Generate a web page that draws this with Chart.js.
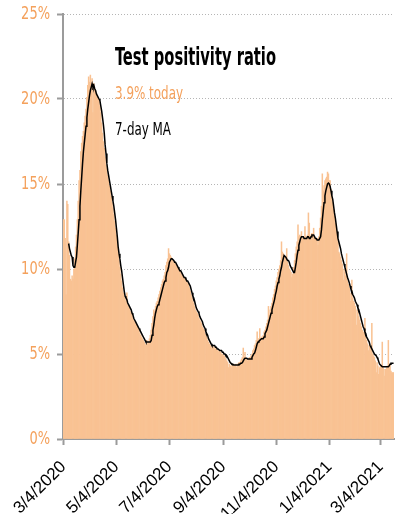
<!DOCTYPE html>
<html lang="en">
<head>
    <meta charset="UTF-8" />
    <title>Test positivity ratio</title>
    <script src="https://cdn.jsdelivr.net/npm/chart.js"></script>
    <style>
        body { margin: 0; background: #fff; }
        #chart { display: block; }
    </style>
</head>
<body>
    <canvas id="chart" width="401" height="514"></canvas>

    <script>
        // Daily positivity ratio (%), one value per day from 3/4/2020 to 3/19/2021
        const dailyRatio = [
            12.9, 12.9, 11.8, 8.5, 14.0, 13.8, 11.6, 10.8, 9.4, 9.3,
            9.6, 9.4, 10.0, 10.6, 11.3, 12.0, 12.9, 14.0, 15.2, 15.8,
            16.9, 17.4, 17.8, 18.1, 18.6, 19.0, 19.4, 20.1, 20.8, 21.3,
            21.0, 21.4, 20.9, 21.2, 19.2, 20.9, 20.6, 20.5, 20.3, 20.2,
            20.1, 19.9, 19.6, 19.2, 18.6, 18.0, 17.5, 17.1, 16.6, 16.1,
            15.9, 15.5, 15.2, 14.9, 14.6, 14.3, 13.9, 13.6, 13.2, 12.8,
            12.4, 12.0, 11.6, 11.0, 10.5, 10.1, 9.7, 9.3, 8.9, 8.6,
            8.3, 8.4, 8.1, 8.6, 7.9, 7.8, 7.7, 7.5, 7.4, 7.3,
            7.1, 7.0, 6.9, 6.8, 6.7, 6.6, 6.5, 6.4, 6.2, 6.1,
            6.0, 5.9, 5.8, 5.7, 5.6, 5.5, 5.8, 5.6, 5.7, 5.9,
            6.1, 6.4, 6.8, 7.2, 7.6, 7.5, 7.8, 8.0, 8.1, 8.3,
            8.5, 8.7, 8.9, 9.1, 9.3, 9.4, 9.6, 9.8, 10.2, 10.4,
            10.6, 11.2, 10.9, 10.8, 10.7, 10.6, 10.5, 10.4, 10.4, 10.3,
            10.2, 10.1, 10.0, 9.9, 9.9, 9.8, 9.7, 9.6, 9.6, 9.5,
            9.4, 9.4, 9.3, 9.2, 9.1, 8.9, 8.7, 8.5, 8.3, 8.1,
            8.0, 7.8, 7.6, 7.5, 7.4, 7.3, 7.1, 7.0, 6.9, 6.8,
            6.6, 6.5, 6.4, 6.2, 6.1, 6.0, 5.8, 5.7, 5.6, 5.5,
            5.5, 5.4, 5.5, 5.4, 5.3, 5.4, 5.3, 5.2, 5.2, 5.1,
            5.2, 5.1, 5.0, 5.0, 4.9, 4.9, 4.8, 4.7, 4.6, 4.5,
            4.2, 4.4, 4.3, 4.2, 4.4, 4.3, 4.4, 4.3, 4.4, 4.2,
            4.4, 4.4, 4.5, 4.5, 4.6, 4.7, 4.8, 5.35, 4.8, 5.1,
            4.7, 4.7, 4.6, 4.7, 4.8, 4.8, 4.9, 5.0, 5.2, 5.3,
            5.5, 5.6, 5.8, 6.3, 5.8, 5.9, 6.5, 5.9, 6.0, 6.0,
            6.1, 6.3, 6.4, 6.6, 6.8, 7.0, 7.8, 7.3, 7.6, 7.8,
            8.0, 8.3, 8.5, 8.8, 9.0, 9.3, 9.5, 9.8, 10.0, 10.2,
            10.5, 11.6, 11.0, 10.9, 10.8, 10.7, 10.6, 11.2, 10.4, 10.2,
            10.0, 9.9, 9.8, 9.5, 9.7, 10.1, 10.5, 10.9, 11.3, 11.6,
            12.6, 11.9, 12.0, 11.9, 12.2, 11.8, 11.9, 11.8, 12.5, 11.9,
            11.8, 12.0, 13.3, 12.7, 11.9, 12.0, 12.1, 12.0, 12.4, 11.9,
            11.8, 11.7, 11.8, 11.4, 11.9, 12.4, 13.0, 13.7, 15.6, 14.6,
            14.9, 15.2, 15.3, 15.4, 15.7, 15.6, 15.2, 15.2, 14.7, 14.3,
            13.9, 13.5, 13.1, 12.7, 12.5, 12.1, 11.6, 11.0, 10.9, 10.7,
            10.5, 10.3, 9.35, 10.0, 9.8, 9.6, 10.9, 9.3, 9.1, 8.9,
            8.1, 8.6, 9.35, 8.3, 8.1, 8.0, 7.8, 6.7, 7.6, 7.4,
            7.2, 7.0, 6.8, 6.6, 6.4, 6.3, 6.2, 7.1, 6.0, 5.8,
            5.6, 5.2, 5.5, 5.4, 5.3, 6.8, 5.0, 4.9, 4.8, 4.6,
            3.9, 4.5, 4.3, 3.8, 4.2, 4.3, 4.2, 5.7, 4.2, 4.1,
            3.7, 4.1, 4.2, 4.3, 5.8, 4.4, 4.35, 4.0, 3.9, 3.9,
            3.9
        ];

        // 7-day moving average (%), same days; the first six days have none
        const movingAvg = [
            null, null, null, null, null, null, 11.5, 11.2, 11.0, 10.8,
            10.7, 10.2, 10.1, 10.1, 10.4, 10.7, 11.4, 12.1, 12.9, 13.7,
            14.6, 15.4, 16.2, 16.9, 17.4, 17.9, 18.4, 18.9, 19.4, 19.8,
            20.2, 20.5, 20.7, 20.9, 20.7, 20.8, 20.6, 20.5, 20.3, 20.2,
            20.1, 20.0, 19.9, 19.6, 19.3, 18.9, 18.5, 18.0, 17.3, 16.8,
            16.2, 15.8, 15.5, 15.2, 14.9, 14.6, 14.3, 14.0, 13.7, 13.3,
            12.9, 12.4, 11.9, 11.3, 10.9, 10.6, 10.2, 9.9, 9.5, 9.1,
            8.7, 8.4, 8.3, 8.2, 8.0, 7.9, 7.8, 7.7, 7.6, 7.4,
            7.3, 7.1, 7.0, 6.9, 6.8, 6.7, 6.6, 6.5, 6.4, 6.3,
            6.2, 6.1, 6.0, 5.9, 5.8, 5.7, 5.7, 5.7, 5.7, 5.7,
            5.7, 5.8, 6.1, 6.4, 6.7, 7.1, 7.4, 7.6, 7.8, 7.9,
            8.0, 8.2, 8.4, 8.6, 8.8, 9.0, 9.2, 9.3, 9.5, 9.8,
            9.9, 10.1, 10.4, 10.5, 10.6, 10.6, 10.6, 10.5, 10.4, 10.4,
            10.3, 10.2, 10.1, 10.0, 9.9, 9.9, 9.8, 9.7, 9.6, 9.5,
            9.5, 9.4, 9.3, 9.3, 9.2, 9.1, 9.0, 8.8, 8.6, 8.4,
            8.3, 8.1, 7.9, 7.7, 7.6, 7.5, 7.4, 7.2, 7.1, 7.0,
            6.9, 6.7, 6.6, 6.5, 6.3, 6.2, 6.1, 5.9, 5.8, 5.7,
            5.6, 5.5, 5.5, 5.5, 5.5, 5.4, 5.4, 5.3, 5.3, 5.3,
            5.2, 5.2, 5.2, 5.1, 5.1, 5.0, 5.0, 4.9, 4.9, 4.8,
            4.7, 4.6, 4.5, 4.45, 4.4, 4.4, 4.35, 4.35, 4.35, 4.35,
            4.35, 4.35, 4.4, 4.4, 4.45, 4.45, 4.5, 4.6, 4.7, 4.75,
            4.75, 4.75, 4.7, 4.7, 4.7, 4.7, 4.7, 4.8, 4.9, 5.0,
            5.05, 5.2, 5.4, 5.6, 5.7, 5.75, 5.8, 5.85, 5.9, 5.9,
            5.9, 6.0, 6.2, 6.3, 6.4, 6.6, 6.8, 7.0, 7.2, 7.4,
            7.6, 7.8, 8.0, 8.2, 8.5, 8.7, 9.0, 9.2, 9.4, 9.6,
            9.9, 10.1, 10.4, 10.6, 10.8, 10.8, 10.7, 10.6, 10.5, 10.5,
            10.4, 10.2, 10.1, 10.0, 9.9, 9.8, 9.8, 10.1, 10.4, 10.8,
            11.1, 11.4, 11.6, 11.8, 11.9, 11.9, 11.9, 11.8, 11.8, 11.8,
            11.8, 11.9, 11.9, 11.8, 11.8, 11.9, 12.0, 12.0, 12.0, 11.9,
            11.8, 11.8, 11.7, 11.7, 11.7, 11.8, 11.9, 12.3, 12.9, 13.4,
            13.9, 14.3, 14.6, 14.8, 15.0, 15.05, 15.0, 14.85, 14.6, 14.3,
            14.1, 13.7, 13.3, 13.0, 12.6, 12.2, 11.8, 11.6, 11.4, 11.2,
            10.9, 10.7, 10.5, 10.3, 10.1, 9.9, 9.7, 9.5, 9.35, 9.2,
            9.0, 8.8, 8.7, 8.5, 8.4, 8.3, 8.1, 8.0, 7.9, 7.7,
            7.6, 7.4, 7.2, 7.0, 6.8, 6.6, 6.5, 6.3, 6.2, 6.0,
            5.9, 5.8, 5.7, 5.5, 5.4, 5.3, 5.2, 5.1, 5.0, 4.95,
            4.9, 4.8, 4.7, 4.55, 4.4, 4.35, 4.3, 4.25, 4.25, 4.25,
            4.25, 4.25, 4.25, 4.25, 4.25, 4.3, 4.4, 4.45, 4.45, 4.45,
            4.45
        ];

        // x-axis ticks: day index since 3/4/2020 and its label
        const tickDays = [0, 61, 122, 184, 245, 306, 365];
        const tickLabels = ['3/4/2020', '5/4/2020', '7/4/2020', '9/4/2020', '11/4/2020', '1/4/2021', '3/4/2021'];

        const titleText = 'Test positivity ratio';
        const todayText = '3.9% today';
        const maText = '7-day MA';

        const narrow = "'Liberation Sans Narrow', 'DejaVu Sans Condensed', sans-serif";
        const orange = '#F4A15C';
        const peach = '#F9C293';
        const axisGray = '#9b9b9b';

        // draw text squeezed horizontally by factor sx
        function squeezed(c, text, x, y, font, color, sx, align, baseline) {
            c.save();
            c.font = font;
            c.fillStyle = color;
            c.textAlign = align || 'left';
            c.textBaseline = baseline || 'alphabetic';
            c.translate(x, y);
            c.scale(sx, 1);
            c.fillText(text, 0, 0);
            c.restore();
        }

        // squeeze a line of text to a given width
        function fitText(c, text, x, y, font, color, width) {
            c.save();
            c.font = font;
            const w = c.measureText(text).width;
            c.restore();
            squeezed(c, text, x, y, font, color, width / w);
        }

        const notes = {
            id: 'notes',
            afterDraw(chart) {
                const c = chart.ctx;
                const a = chart.chartArea;
                fitText(c, titleText, a.left + 52, a.top + 51, 'bold 25px ' + narrow, '#000', 161);
                fitText(c, todayText, a.left + 52, a.top + 85, '18px ' + narrow, orange, 68);
                fitText(c, maText, a.left + 52, a.top + 121, '18px ' + narrow, '#000', 56);

                // y tick labels, in a narrow face
                const ys = chart.scales.y;
                ys.ticks.forEach(t => {
                    squeezed(c, t.value + '%', a.left - 13, ys.getPixelForValue(t.value) + 1,
                        '17px ' + narrow, orange, 0.85, 'right', 'middle');
                });
            }
        };

        new Chart(document.getElementById('chart'), {
            type: 'bar',
            data: {
                datasets: [
                    {
                        type: 'line',
                        label: maText,
                        data: movingAvg.map((v, i) => ({ x: i, y: v })),
                        borderColor: '#000',
                        borderWidth: 1.5,
                        pointRadius: 0,
                        tension: 0,
                        order: 0
                    },
                    {
                        label: 'Daily',
                        data: dailyRatio.map((v, i) => ({ x: i, y: v })),
                        backgroundColor: peach,
                        borderWidth: 0,
                        barPercentage: 1,
                        categoryPercentage: 1,
                        order: 1
                    }
                ]
            },
            options: {
                responsive: false,
                animation: false,
                layout: { padding: { top: 14, right: 7, left: 0, bottom: 0 } },
                plugins: {
                    legend: { display: false },
                    tooltip: { enabled: false }
                },
                scales: {
                    x: {
                        type: 'linear',
                        min: -0.5,
                        max: dailyRatio.length - 0.5,
                        offset: false,
                        afterBuildTicks: (scale) => {
                            scale.ticks = tickDays.map(d => ({ value: d }));
                        },
                        afterFit: (scale) => {
                            scale.height = 75;
                            scale.paddingLeft = 0;
                            scale.paddingRight = 0;
                        },
                        grid: {
                            offset: false,
                            drawOnChartArea: false,
                            drawTicks: true,
                            tickLength: 6,
                            tickWidth: 2,
                            tickColor: axisGray
                        },
                        border: { color: axisGray, width: 2 },
                        ticks: {
                            autoSkip: false,
                            minRotation: 45,
                            maxRotation: 45,
                            padding: 12,
                            color: '#000',
                            font: { family: "'Liberation Sans', Arial, sans-serif", size: 17 },
                            callback: (v) => tickLabels[tickDays.indexOf(v)]
                        }
                    },
                    y: {
                        min: 0,
                        max: 25,
                        afterFit: (scale) => {
                            scale.width = 63;
                            scale.paddingTop = 0;
                            scale.paddingBottom = 0;
                        },
                        grid: {
                            color: '#b5b5b5',
                            lineWidth: 1,
                            tickLength: 6,
                            tickWidth: 2,
                            tickColor: axisGray
                        },
                        border: { color: axisGray, width: 2, dash: [1, 2] },
                        ticks: {
                            stepSize: 5,
                            display: false
                        }
                    }
                }
            },
            plugins: [notes]
        });
    </script>
</body>
</html>
